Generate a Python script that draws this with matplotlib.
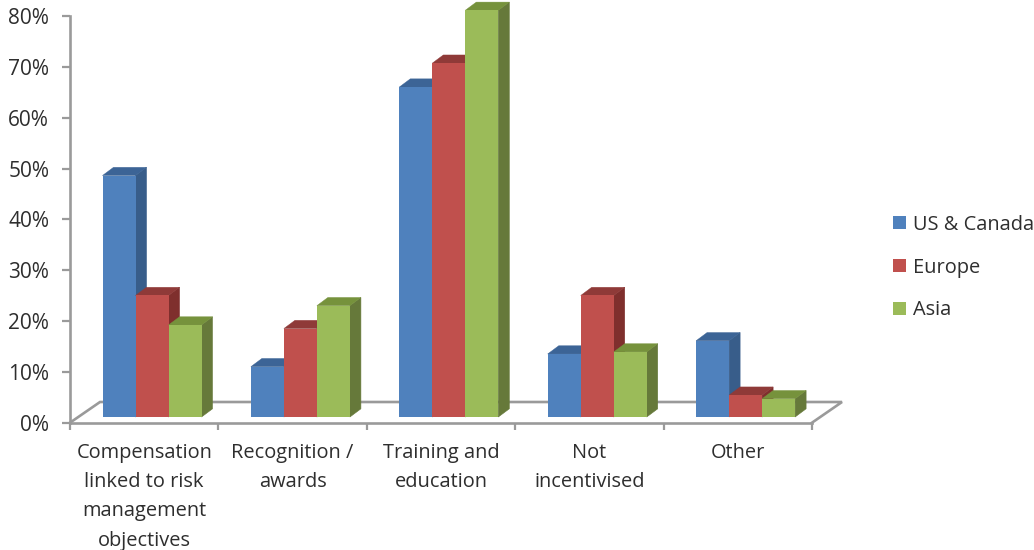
import matplotlib
matplotlib.use("Agg")
import matplotlib.pyplot as plt
from matplotlib.patches import Polygon, Patch
from matplotlib.ticker import FuncFormatter
from matplotlib.lines import Line2D

categories = ["Compensation\nlinked to risk\nmanagement\nobjectives", "Recognition /\nawards",
              "Training and\neducation", "Not\nincentivised", "Other"]
us_canada = [47.5, 9.9, 64.9, 12.4, 15.0]
europe = [23.9, 17.4, 69.6, 23.9, 4.3]
asia = [18.1, 21.9, 80.0, 12.8, 3.6]
series_names = ["US & Canada", "Europe", "Asia"]
front_colors = ["#4F81BD", "#C0504D", "#9BBB59"]
top_colors = ["#3C6496", "#8F3A38", "#76923C"]
side_colors = ["#385D8A", "#7F2F2D", "#66793A"]

W, H = 1034, 550
L, R, T, B = 70, 812, 16, 422.7
GRAY = "#9A9A9A"
TXT = "#2E2E2E"
FONT = "Open Sans"
FS = 14.4

plt.rcParams["font.family"] = FONT
fig = plt.figure(figsize=(W / 100, H / 100), dpi=100)
ax = fig.add_axes([L / W, 1 - B / H, (R - L) / W, (B - T) / H])
ax.set_xlim(0, len(categories))
ax.set_ylim(0, 80)
ux = (R - L) / len(categories)
uy = (B - T) / 80

dx = 11 / ux
dy = 8.2 / uy
base = (B - 417) / uy
bw = 33 / ux
start = 32.5 / ux

# floor
floor_dx = 30 / ux
floor_dy = 20.7 / uy
fx = [0, floor_dx, 5 + floor_dx, 5]
fy = [0, floor_dy, floor_dy, 0]
ax.add_line(Line2D(fx, fy, color=GRAY, lw=1.9, clip_on=False, zorder=1, solid_joinstyle="miter"))

all_series = [us_canada, europe, asia]
for c in range(len(categories)):
    for s, vals in enumerate(all_series):
        v = vals[c]
        x0 = c + start + s * bw
        x1 = x0 + bw
        top = base + v
        z = 3 + s * 0.1
        ax.add_patch(Polygon([(x1, base), (x1 + dx, base + dy), (x1 + dx, top + dy), (x1, top)],
                             closed=True, fc=side_colors[s], ec=side_colors[s], lw=0.4, clip_on=False, zorder=z))
        ax.add_patch(Polygon([(x0, top), (x0 + dx, top + dy), (x1 + dx, top + dy), (x1, top)],
                             closed=True, fc=top_colors[s], ec=top_colors[s], lw=0.3, clip_on=False, zorder=z))
        ax.bar(x0, v, width=bw, bottom=base, align="edge", color=front_colors[s],
               linewidth=0, zorder=z + 0.05, clip_on=False)

for sp in ["top", "right"]:
    ax.spines[sp].set_visible(False)
for sp in ["left", "bottom"]:
    ax.spines[sp].set_color(GRAY)
    ax.spines[sp].set_linewidth(1.9)

ax.set_yticks(range(0, 81, 10))
ax.yaxis.set_major_formatter(FuncFormatter(lambda v, p: f"{int(v)}%"))
ax.tick_params(axis="y", length=6, width=1.6, color=GRAY, labelsize=15, labelcolor=TXT, pad=9)
ax.set_xticks(range(0, 6))
ax.set_xticklabels([])
ax.tick_params(axis="x", which="major", length=5, width=1.6, color=GRAY)
ax.set_xticks([c + 0.5 for c in range(len(categories))], minor=True)
ax.set_xticklabels(categories, minor=True, fontsize=FS, color=TXT, linespacing=1.62)
ax.tick_params(axis="x", which="minor", length=0, pad=14.5)

handles = [Patch(fc=c, ec="none", label=n) for c, n in zip(front_colors, series_names)]
fig.legend(handles=handles, loc="center left", bbox_to_anchor=(893 / W, 1 - 267.5 / H), frameon=False,
           fontsize=FS, labelcolor=TXT, handlelength=0.66, handleheight=0.66, handletextpad=0.32,
           labelspacing=1.14, borderpad=0, borderaxespad=0)

fig.savefig("out.png", dpi=100, facecolor="white")
